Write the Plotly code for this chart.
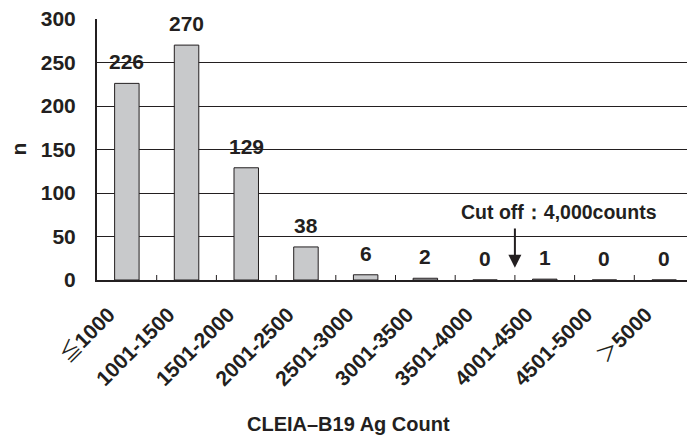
import plotly.graph_objects as go

categories = ["≦1000", "1001-1500", "1501-2000", "2001-2500", "2501-3000",
              "3001-3500", "3501-4000", "4001-4500", "4501-5000", "＞5000"]
counts = [226, 270, 129, 38, 6, 2, 0, 1, 0, 0]
y_ticks = [0, 50, 100, 150, 200, 250, 300]
cutoff_text = "Cut off：4,000counts"

INK = "#231f20"
FONT = "Liberation Sans, Arial, sans-serif"
CJK = "Noto Sans CJK JP"


def label(c):
    # symbols drawn thin in a CJK face, digits bold
    if c[0] in "≦＞":
        return f"<span style='font-family:{CJK};font-weight:normal'>{c[0]}</span><b>{c[1:]}</b>"
    return f"<b>{c}</b>"


fig = go.Figure()
fig.add_trace(go.Bar(
    x=list(range(len(categories))), y=counts,
    width=0.41,
    marker=dict(color="#c8c9cb", line=dict(color=INK, width=1)),
    hoverinfo="skip",
))

annotations = []
for i, v in enumerate(counts):
    annotations.append(dict(
        x=i, y=v, xref="x", yref="y", text=f"<b>{v}</b>", showarrow=False,
        yanchor="bottom", yshift=8, font=dict(family=FONT, size=21, color=INK),
    ))

# cut-off arrow at the 4000 boundary
annotations.append(dict(
    x=6.5, y=14, xref="x", yref="y", ax=6.5, ay=61, axref="x", ayref="y",
    text="", showarrow=True, arrowhead=2, arrowsize=1.3, arrowwidth=2,
    arrowcolor=INK,
))
annotations.append(dict(
    x=7.24, y=78, xref="x", yref="y", text=f"<b>{cutoff_text}</b>", showarrow=False,
    font=dict(family=FONT, size=19.5, color=INK), yanchor="middle",
))
annotations.append(dict(
    x=(348 - 97) / 590, y=0, xref="paper", yref="paper", yshift=-144,
    text="<b>CLEIA–B19 Ag Count</b>", showarrow=False, yanchor="middle",
    font=dict(family=FONT, size=20, color=INK),
))
annotations.append(dict(
    x=0, y=0.5, xref="paper", yref="paper", xshift=-79, textangle=-90,
    text="<b>n</b>", showarrow=False, xanchor="center", yanchor="middle",
    font=dict(family=FONT, size=21, color=INK),
))

fig.update_layout(
    width=687, height=439,
    margin=dict(l=97, r=0, t=19, b=159, autoexpand=False),
    paper_bgcolor="white", plot_bgcolor="white",
    showlegend=False, bargap=0.59,
    annotations=annotations,
    font=dict(family=FONT, color=INK),
    xaxis=dict(
        range=[-0.5, 9.5 - 7 / 59.7], automargin=False,
        tickmode="array", tickvals=list(range(len(categories))),
        ticktext=[label(c) for c in categories],
        tickangle=-45, tickfont=dict(family=FONT, size=21, color=INK),
        showline=True, linecolor=INK, linewidth=2,
        showgrid=False, zeroline=False, ticks="",
        ticklabelshift=-18, ticklabelstandoff=12,
    ),
    yaxis=dict(
        range=[0, 300], tickmode="array", tickvals=y_ticks, automargin=False,
        ticktext=[f"<b>{t}</b>" for t in y_ticks],
        tickfont=dict(family=FONT, size=21, color=INK),
        showline=True, linecolor=INK, linewidth=2,
        showgrid=True, gridcolor=INK, gridwidth=1,
        zeroline=False, ticks="", ticklabelstandoff=15,
    ),
)

# boundary ticks drawn as shapes (inside ticks between categories)
for b in range(len(categories)):
    fig.add_shape(type="line", xref="x", yref="paper", x0=b + 0.5, x1=b + 0.5,
                  y0=0, y1=5 / 261, line=dict(color=INK, width=1))

fig.write_html("out.html", config={"displayModeBar": False},
               post_script="document.body.style.margin='0';")
